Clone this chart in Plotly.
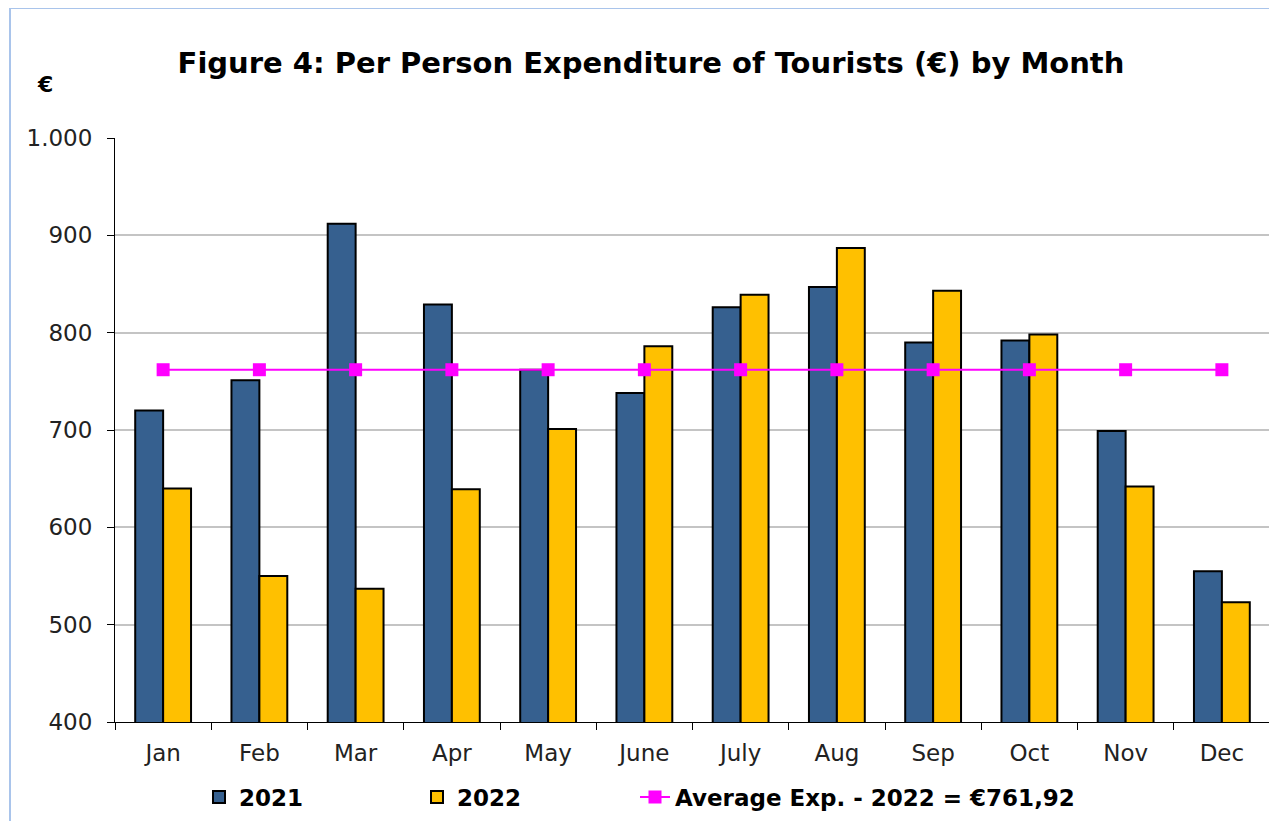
import plotly.graph_objects as go

months = ["Jan", "Feb", "Mar", "Apr", "May", "June", "July", "Aug", "Sep", "Oct", "Nov", "Dec"]
exp_2021 = [720, 751, 912, 829, 762, 738, 826, 847, 790, 792, 699, 555]
exp_2022 = [640, 550, 537, 639, 701, 786, 839, 887, 843, 798, 642, 523]
avg_2022 = 761.92
avg_line = [avg_2022] * len(months)

FONT = "DejaVu Sans, Verdana, sans-serif"

fig = go.Figure()
fig.add_trace(go.Bar(x=months, y=exp_2021, name="<b>2021</b>", legend="legend",
                     marker=dict(color="#36608F", line=dict(color="#000000", width=2))))
fig.add_trace(go.Bar(x=months, y=exp_2022, name="<b>2022</b>", legend="legend2",
                     marker=dict(color="#FFC000", line=dict(color="#000000", width=2))))
fig.add_trace(go.Scatter(x=months, y=avg_line, name="<b>Average Exp. - 2022 = €761,92</b>",
                         legend="legend3", mode="lines+markers",
                         line=dict(color="#FF00FF", width=2),
                         marker=dict(symbol="square", size=13, color="#FF00FF")))

# the page body adds an 8px offset; figure coords = screen coords - 8
W, H = 1269, 813
ml, mr, mt, mb = 107, 7, 130, 99
PW, PH = W - ml - mr, H - mt - mb


def px_x(sx):
    return (sx - 8 - ml) / PW


def px_y(sy):
    return 1 - (sy - 8 - mt) / PH


def leg(sx):
    return dict(orientation="h", x=px_x(sx), xanchor="left", y=px_y(797), yanchor="middle",
                font=dict(size=23, family=FONT), bgcolor="rgba(0,0,0,0)")


fig.update_layout(
    width=W, height=H,
    margin=dict(l=ml, r=mr, t=mt, b=mb, autoexpand=False),
    paper_bgcolor="white", plot_bgcolor="white",
    separators=",.",
    barmode="group", bargap=0.42, bargroupgap=0,
    font=dict(family=FONT, color="#000000", size=22),
    title=dict(text="<b>Figure 4: Per Person Expenditure of Tourists (€) by Month</b>",
               x=px_x(651), xanchor="center", y=1 - (63 - 8) / H, yanchor="middle",
               xref="paper", font=dict(size=29)),
    showlegend=True,
    legend=leg(199), legend2=leg(417), legend3=leg(635),
    annotations=[dict(text="<b>€</b>", xref="paper", yref="paper",
                      x=px_x(45), y=px_y(85),
                      xanchor="center", yanchor="middle", showarrow=False,
                      font=dict(size=22))],
    shapes=[dict(type="rect", xref="paper", yref="paper",
                 x0=px_x(10), x1=px_x(1300),
                 y0=px_y(900), y1=px_y(8),
                 line=dict(color="#A9C4EB", width=2), layer="below")],
)
fig.update_xaxes(range=[-0.5, len(months) - 0.5], automargin=False,
                 showline=True, linecolor="#000000", linewidth=1,
                 ticks="outside", ticklen=7, tickcolor="#000000", tickson="boundaries",
                 ticklabelstandoff=10,
                 showgrid=False, tickfont=dict(size=23, color="#222222"))
fig.update_yaxes(range=[400, 1000], dtick=100, tickformat=",d", automargin=False,
                 showline=True, linecolor="#000000", linewidth=1,
                 ticks="outside", ticklen=7, tickcolor="#000000",
                 ticklabelstandoff=10,
                 showgrid=True, gridcolor="#C4C4C4", gridwidth=2,
                 tickfont=dict(size=23, color="#222222"), zeroline=False)

fig.write_html("out.html")
